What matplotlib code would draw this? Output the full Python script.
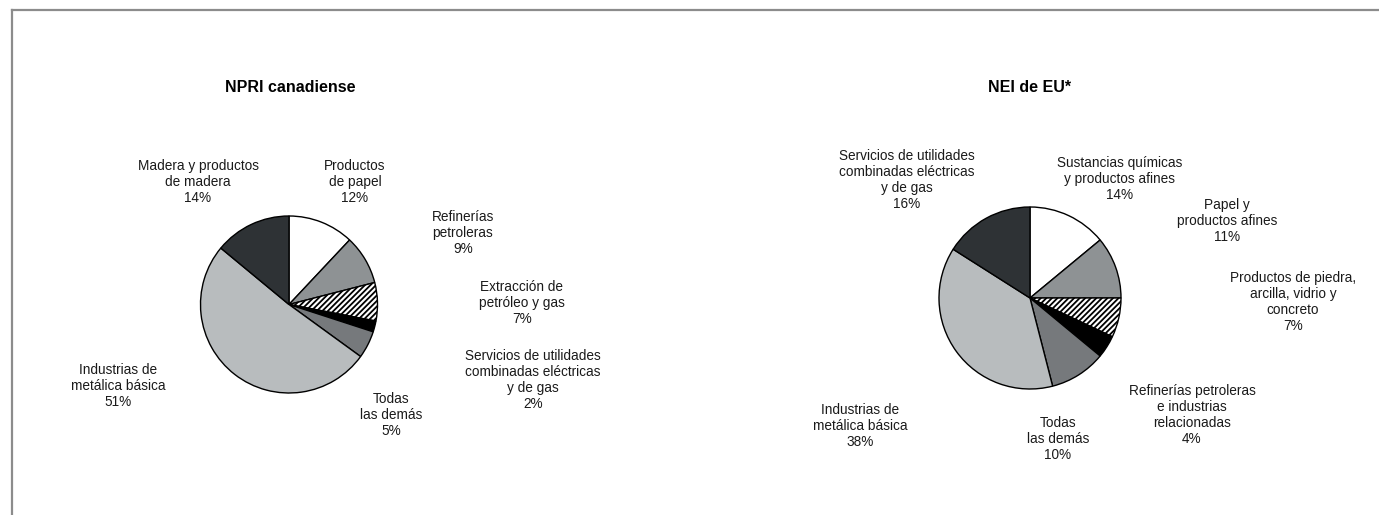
import matplotlib
matplotlib.use("Agg")
import matplotlib.pyplot as plt
from matplotlib.lines import Line2D

plt.rcParams['font.family'] = ['Liberation Sans Narrow', 'Liberation Sans', 'DejaVu Sans']
plt.rcParams['hatch.linewidth'] = 1.3

W, H = 1379, 515

# ---- data ----
can_title = "NPRI canadiense"
can_labels = ["Productos\nde papel", "Refinerías\npetroleras", "Extracción de\npetróleo y gas",
              "Servicios de utilidades\ncombinadas eléctricas\ny de gas", "Todas\nlas demás",
              "Industrias de\nmetálica básica", "Madera y productos\nde madera"]
can_values = [12, 9, 7, 2, 5, 51, 14]

us_title = "NEI de EU*"
us_labels = ["Sustancias químicas\ny productos afines", "Papel y\nproductos afines",
             "Productos de piedra,\narcilla, vidrio y\nconcreto",
             "Refinerías petroleras\ne industrias\nrelacionadas", "Todas\nlas demás",
             "Industrias de\nmetálica básica",
             "Servicios de utilidades\ncombinadas eléctricas\ny de gas"]
us_values = [14, 11, 7, 4, 10, 38, 16]

# ---- styles ----
colors = ["#ffffff", "#8e9294", "#ffffff", "#000000", "#76797c", "#b8bcbe", "#2e3235"]
hatches = [None, None, "//////", None, None, None, None]

fig = plt.figure(figsize=(W / 100, H / 100), dpi=100)
ax = fig.add_axes([0, 0, 1, 1])

def Y(y):
    return H - y

# frame (top and left lines)
ax.add_line(Line2D([12, W], [Y(9.5), Y(9.5)], color="#8c8c8c", lw=1.6))
ax.add_line(Line2D([12, 12], [Y(9.5), 0], color="#8c8c8c", lw=1.6))

def draw_pie(values, labels, title, center, radius, title_pos, label_pos):
    wedges, _ = ax.pie(values, colors=colors, startangle=90, counterclock=False,
                       center=(center[0], Y(center[1])), radius=radius,
                       wedgeprops=dict(edgecolor="black", linewidth=1.0), frame=True)
    for w, h in zip(wedges, hatches):
        if h:
            w.set_hatch(h)
    ax.text(title_pos[0], Y(title_pos[1]), title, ha='center', va='center',
            fontsize=11.5, fontweight='bold')
    for lab, v, (lx, ly) in zip(labels, values, label_pos):
        ax.text(lx, Y(ly), f"{lab}\n{v}%", ha='center', va='center', fontsize=9.8,
                linespacing=1.18, color="#1a1a1a")

draw_pie(can_values, can_labels, can_title, (289, 304.5), 88.5, (290, 87),
         [(355, 182), (463, 233), (522, 303), (533, 380), (391, 415), (118, 386), (198, 182)])
draw_pie(us_values, us_labels, us_title, (1030, 298), 91, (1030, 87),
         [(1120, 179), (1227, 221), (1293, 302), (1192, 415), (1058, 439), (860, 426), (907, 180)])

ax.set_xlim(0, W)
ax.set_ylim(0, H)
ax.set_aspect('equal')
ax.axis('off')

fig.savefig("out.png", dpi=100)
